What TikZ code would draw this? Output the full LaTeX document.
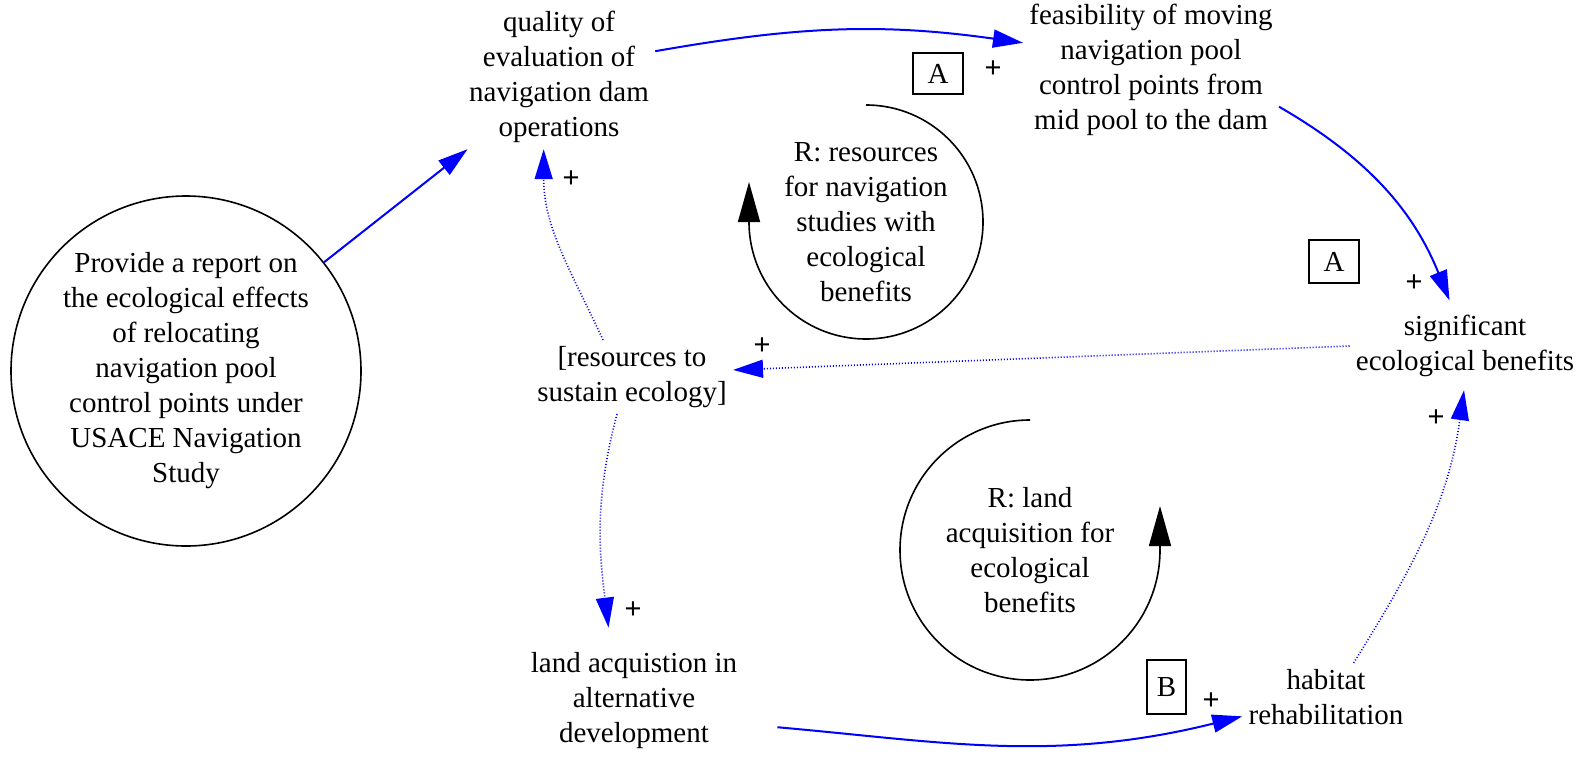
\documentclass[tikz,border=0pt]{standalone}
\usepackage{fontspec}
\setmainfont{Liberation Serif}
\setsansfont{Liberation Sans}
\usepackage{tikz}
\usetikzlibrary{arrows.meta}
\tikzset{
  cldvar/.style={
    align=center,
    inner sep=3pt,
    font=\fontsize{14.5pt}{17.5pt}\selectfont
  },
  cldreport/.style={
    cldvar,
    circle,
    draw,
    line width=0.8pt,
    minimum size=175pt,
    inner sep=0pt
  },
  cldtag/.style={
    draw,
    line width=0.7pt,
    inner sep=0pt,
    font=\fontsize{14.5pt}{17.5pt}\selectfont
  },
  cldsign/.style={
    inner sep=0pt,
    font=\sffamily\fontsize{14.5pt}{17.5pt}\selectfont
  },
  cldarrow/.style={
    -{Triangle[length=15pt,width=9pt]},
    line width=1pt,
    draw=blue
  },
  cldlink/.style={
    -{Triangle[length=15pt,width=9pt]},
    line width=0.8pt,
    dash pattern=on 0.5pt off 1pt,
    draw=blue
  },
  cldloop/.style={
    -{Triangle[length=20pt,width=11pt]},
    line width=0.8pt
  }
}

\begin{document}
\begin{tikzpicture}[x=0.5pt, y=0.5pt]
    \useasboundingbox (0,0) rectangle (1583,-760);

    \node[cldreport] (report) at (186,-371) {Provide a report on\\the ecological effects\\of relocating\\navigation pool\\control points under\\USACE Navigation\\Study};
    \node[cldvar] (quality) at (559,-77) {quality of\\evaluation of\\navigation dam\\operations};
    \node[cldvar] (feas) at (1151,-70) {feasibility of moving\\navigation pool\\control points from\\mid pool to the dam};
    \node[cldvar] (resources) at (632,-377) {[resources to\\sustain ecology]};
    \node[cldvar] (signif) at (1465,-346) {significant\\ecological benefits};
    \node[cldvar] (land) at (634,-701) {land acquistion in\\alternative\\development};
    \node[cldvar] (habitat) at (1326,-697) {habitat\\rehabilitation};
    \node[cldvar] (loopres) at (866,-222) {R: resources\\for navigation\\studies with\\ecological\\benefits};
    \node[cldvar] (loopland) at (1030,-550) {R: land\\acquisition for\\ecological\\benefits};

    \node[cldtag, minimum width=25pt, minimum height=20.5pt] (tagtop) at (938,-73.5) {A};
    \node[cldtag, minimum width=25pt, minimum height=21.5pt] (tagright) at (1334,-261.5) {A};
    \node[cldtag, minimum width=19.5pt, minimum height=27pt] (tagbottom) at (1166.5,-687) {B};

    \node[cldsign] (plusfeas) at (993,-69) {+};
    \node[cldsign] (plussignif) at (1414,-283) {+};
    \node[cldsign] (plusres) at (762,-346) {+};
    \node[cldsign] (plusqual) at (571,-179) {+};
    \node[cldsign] (plusland) at (633,-610) {+};
    \node[cldsign] (plusbenefit) at (1436,-418) {+};
    \node[cldsign] (plushabitat) at (1211,-701) {+};

    \draw[cldloop] (loopres.center) ++(0,117) arc[start angle=90, end angle=-180, radius=117] -- ++(0,40);
    \draw[cldloop] (loopland.center) ++(0,130) arc[start angle=90, end angle=360, radius=130] -- ++(0,44);

    \draw[cldarrow] (report) -- (quality);
    \draw[cldarrow] (quality.15) to[out=10, in=172] (feas.168);
    \draw[cldarrow, shorten >=4.5pt] (feas.-16) to[out=-30, in=112] (signif.108);
    \draw[cldlink] (signif.west) -- (resources.4);
    \draw[cldlink] (resources.128) to[out=115, in=-90] (quality.-102);
    \draw[cldlink, shorten >=9.5pt] (resources.-112) to[out=-105, in=97] (land.113);
    \draw[cldarrow, shorten <=17pt] (land.-12) to[out=-5, in=-166] (habitat.193);
    \draw[cldlink, shorten >=3.5pt] (habitat.51) to[out=58, in=-98] (signif.south);
\end{tikzpicture}
\end{document}
